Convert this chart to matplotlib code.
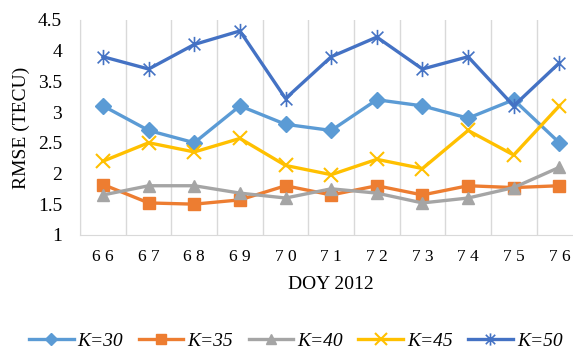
import matplotlib.pyplot as plt
from matplotlib.path import Path
import numpy as np

days = ['66', '67', '68', '69', '70', '71', '72', '73', '74', '75', '76']
k30 = [3.1, 2.7, 2.5, 3.1, 2.8, 2.7, 3.2, 3.1, 2.9, 3.2, 2.5]
k35 = [1.82, 1.52, 1.5, 1.57, 1.8, 1.65, 1.8, 1.65, 1.8, 1.77, 1.8]
k40 = [1.65, 1.8, 1.8, 1.68, 1.6, 1.75, 1.68, 1.52, 1.6, 1.77, 2.1]
k45 = [2.2, 2.5, 2.35, 2.57, 2.13, 1.98, 2.23, 2.08, 2.7, 2.3, 3.1]
k50 = [3.9, 3.7, 4.1, 4.32, 3.22, 3.9, 4.22, 3.7, 3.9, 3.1, 3.8]

# excel-like star: an X with a vertical bar through it
M, L = Path.MOVETO, Path.LINETO
star = Path([(-1, -1), (1, 1), (-1, 1), (1, -1), (0, -1.3), (0, 1.3)], [M, L, M, L, M, L])

series = [
    ('K=30', k30, '#5B9BD5', 'D', 8, 1.0),
    ('K=35', k35, '#ED7D31', 's', 9, 1.0),
    ('K=40', k40, '#A5A5A5', '^', 9, 1.0),
    ('K=45', k45, '#FFC000', 'x', 10, 1.5),
    ('K=50', k50, '#4472C4', star, 11, 1.2),
]

plt.rcParams['font.family'] = ['Liberation Serif', 'DejaVu Serif']
plt.rcParams['font.size'] = 14

fig = plt.figure(figsize=(5.73, 3.49), dpi=100)
ax = fig.add_axes([0.14, 0.327, 0.876, 0.616])
x = np.arange(len(days))
for name, vals, c, m, ms, mew in series:
    ax.plot(x, vals, color=c, lw=2.4, marker=m, markersize=ms, markeredgewidth=mew,
            markeredgecolor=c, label=name)

ax.set_xlim(-0.5, len(days) - 0.5)
ax.set_ylim(1, 4.5)
ax.set_yticks(np.arange(1, 4.51, 0.5))
ax.set_yticklabels(['1', '1.5', '2', '2.5', '3', '3.5', '4', '4.5'])
ax.set_xticks(x)
ax.set_xticklabels([d[0] + ' ' + d[1] for d in days], fontsize=12.5)
ax.set_xticks(np.arange(-0.5, len(days), 1), minor=True)
ax.grid(which='minor', axis='x', color='#D9D9D9', lw=1)
ax.tick_params(which='both', length=0)
ax.tick_params(axis='x', pad=10)
ax.tick_params(axis='y', pad=13)
for s in ['top', 'right']:
    ax.spines[s].set_visible(False)
ax.spines['left'].set_color('#D9D9D9')
ax.spines['bottom'].set_color('#D9D9D9')
ax.set_xlabel('DOY 2012', labelpad=8)
ax.set_ylabel('RMSE (TECU)', labelpad=6)

fig.legend(loc='center', bbox_to_anchor=(0.516, 1 - 341 / 349), ncol=5, frameon=False,
           handlelength=2.3, columnspacing=0.8, handletextpad=0.2, borderpad=0,
           markerscale=0.8, prop={'style': 'italic', 'size': 14})

fig.savefig('out.png', dpi=100)
